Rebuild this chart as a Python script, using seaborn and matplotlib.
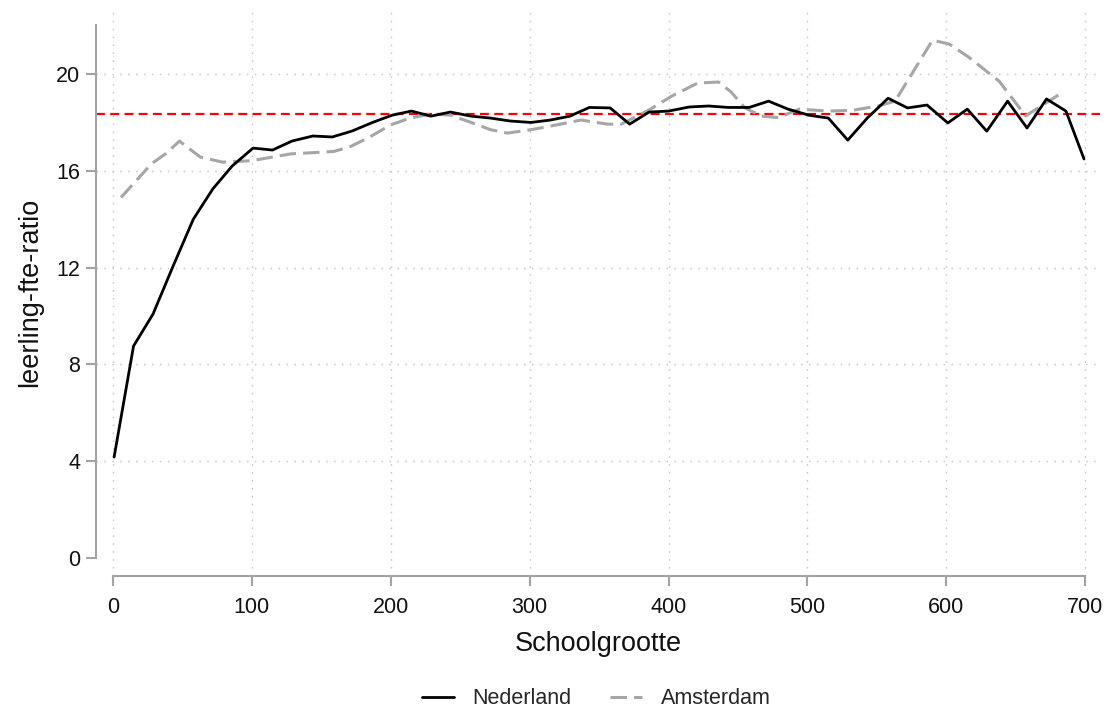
import numpy as np
import pandas as pd
import matplotlib
matplotlib.use("Agg")
import matplotlib.pyplot as plt
import seaborn as sns

# ---- data ----
nl_x = [1, 15, 29, 43, 58, 72, 86, 101, 115, 129, 144, 158, 172, 187, 201, 215, 229, 243,
        258, 272, 286, 301, 315, 329, 343, 358, 372, 386, 400, 415, 429, 443, 458, 472, 486,
        501, 515, 529, 543, 558, 572, 586, 601, 615, 629, 644, 658, 672, 686, 699]
nl_y = [4.17, 8.76, 10.08, 12.0, 14.0, 15.25, 16.2, 16.94, 16.86, 17.23, 17.44, 17.4, 17.64,
        18.0, 18.3, 18.47, 18.26, 18.43, 18.26, 18.18, 18.06, 18.0, 18.1, 18.26, 18.62, 18.6,
        17.93, 18.43, 18.47, 18.64, 18.68, 18.62, 18.62, 18.88, 18.55, 18.3, 18.18, 17.27,
        18.18, 19.0, 18.6, 18.72, 17.98, 18.55, 17.64, 18.88, 17.77, 18.97, 18.47, 16.49]

ams_x = [6, 17, 28, 38, 48, 63, 79, 100, 128, 159, 171, 185, 200, 214, 229, 243, 258, 272,
         284, 301, 315, 337, 356, 366, 387, 402, 421, 436, 445, 455, 467, 479, 494, 515, 532,
         551, 563, 590, 602, 616, 638, 657, 684]
ams_y = [14.9, 15.6, 16.3, 16.7, 17.23, 16.57, 16.36, 16.42, 16.7, 16.8, 17.0, 17.4, 17.9,
         18.18, 18.35, 18.3, 18.0, 17.7, 17.56, 17.7, 17.85, 18.1, 17.93, 17.93, 18.55, 19.08,
         19.63, 19.67, 19.26, 18.6, 18.26, 18.2, 18.55, 18.47, 18.5, 18.68, 18.88, 21.4, 21.24,
         20.7, 19.7, 18.27, 19.26]

reference_value = 18.35
series_names = ["Nederland", "Amsterdam"]
x_ticks = [0, 100, 200, 300, 400, 500, 600, 700]
y_ticks = [0, 4, 8, 12, 16, 20]
x_label = "Schoolgrootte"
y_label = "leerling-fte-ratio"

# ---- style ----
sns.set_style("white")
plt.rcParams["font.family"] = ["Liberation Sans", "DejaVu Sans"]

fig = plt.figure(figsize=(11.1, 7.08), dpi=100)
ax = fig.add_axes([96 / 1110, 1 - 576 / 708, (1100 - 96) / 1110, (576 - 8) / 708])

axis_grey = "#a3a3a3"

df_nl = pd.DataFrame({"x": nl_x, "y": nl_y})
df_ams = pd.DataFrame({"x": ams_x, "y": ams_y})

sns.lineplot(data=df_nl, x="x", y="y", ax=ax, color="black", linewidth=2.0,
             errorbar=None, sort=False, label=series_names[0], zorder=3)
line_nl = ax.lines[-1]
sns.lineplot(data=df_ams, x="x", y="y", ax=ax, color="#a6a6a6", linewidth=2.2,
             errorbar=None, sort=False, label=series_names[1], zorder=2)
line_ams = ax.lines[-1]
line_ams.set_dashes([5.4, 2.3])

ax.axhline(reference_value, color="#ff0000", linewidth=1.6, linestyle=(0, (4.0, 2.4)), zorder=1)

ax.set_xlim(-12.02, 710.5)
ax.set_ylim(-0.744, 22.73)
ax.set_xticks(x_ticks)
ax.set_yticks(y_ticks)
ax.set_yticklabels([str(v) for v in y_ticks])

ax.grid(True, color="#c4c4c4", linewidth=1.0, linestyle=(0, (1.1, 4.6)))
ax.set_axisbelow(True)

sns.despine(ax=ax)
for side in ["left", "bottom"]:
    ax.spines[side].set_color(axis_grey)
    ax.spines[side].set_linewidth(1.5)
ax.spines["left"].set_bounds(0, 22.02)
ax.spines["bottom"].set_bounds(0, 700)

ax.tick_params(axis="both", which="major", direction="out", length=7.2, width=1.5,
               color=axis_grey, labelsize=15.5, labelcolor="#111111",
               bottom=True, left=True, top=False, right=False)
ax.tick_params(axis="y", pad=4.3)
ax.tick_params(axis="x", pad=8)

ax.set_xlabel(x_label, fontsize=19.5, labelpad=9, color="#111111")
ax.set_ylabel(y_label, fontsize=19.5, labelpad=9, color="#111111")

# hide gridline at y = 0
fig.canvas.draw()
for tick in ax.yaxis.get_major_ticks():
    if abs(tick.get_loc()) < 1e-9:
        tick.gridline.set_visible(False)

if ax.get_legend() is not None:
    ax.get_legend().remove()
fig.legend([line_nl, line_ams], series_names, loc="center", bbox_to_anchor=(0.537, 0.013),
           ncol=2, frameon=False, fontsize=15.5, handlelength=1.5, handletextpad=0.85,
           columnspacing=1.8)

fig.savefig("out.png", dpi=100)
